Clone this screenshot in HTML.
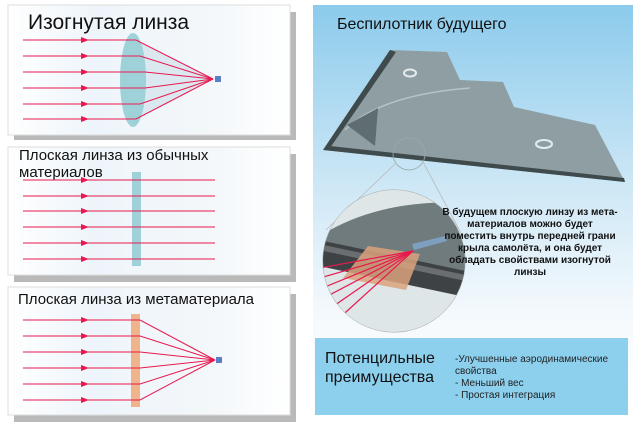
<!DOCTYPE html>
<html><head><meta charset="utf-8"><style>
body{margin:0;width:640px;height:431px;background:#fff;overflow:hidden;font-family:"Liberation Sans",sans-serif}
svg{position:absolute;left:0;top:0}
</style></head><body>
<svg width="640" height="431" viewBox="0 0 640 431" xmlns="http://www.w3.org/2000/svg">
<defs>
<linearGradient id="sky" x1="0" y1="0" x2="0" y2="1">
<stop offset="0" stop-color="#8ccbec"/><stop offset="0.45" stop-color="#cfe8f6"/><stop offset="0.75" stop-color="#f4f9fd"/><stop offset="1" stop-color="#ffffff"/></linearGradient>
<linearGradient id="pan" x1="0" y1="0" x2="1" y2="0">
<stop offset="0" stop-color="#fff"/><stop offset="0.3" stop-color="#eef5fa"/><stop offset="0.7" stop-color="#f3f7fa"/><stop offset="1" stop-color="#fff"/></linearGradient>
<marker id="ar" markerWidth="8" markerHeight="6" refX="4" refY="3" orient="auto"><path d="M0,0 L8,3 L0,6z" fill="#e8194f"/></marker>
<clipPath id="cc"><circle cx="394" cy="261" r="71"/></clipPath>
</defs>
<rect x="313" y="5" width="320" height="410" fill="url(#sky)"/>
<text x="337" y="29" font-size="16" fill="#111">Беспилотник будущего</text>
<polygon points="390,50 447,52 460,80 503,82 514,107 595,125 625,182 323,150" fill="#8e9ea2"/>
<polygon points="390,50 396,52 330,148 323,150" fill="#3f4a4c"/>
<polygon points="323,150 625,182 624,178 330,146" fill="#3f4a4c"/>
<path d="M345,130 Q380,95 470,88" stroke="#b7c3c6" stroke-width="1.5" fill="none"/>
<polygon points="347,125 378,108 375,146" fill="#5f6d70"/>
<ellipse cx="410" cy="73" rx="6" ry="3.5" fill="none" stroke="#e5ecee" stroke-width="2"/>
<ellipse cx="544" cy="144" rx="8" ry="4" fill="none" stroke="#e5ecee" stroke-width="2"/>
<circle cx="409" cy="154" r="16" fill="none" stroke="#9aa" stroke-width="0.8"/>
<line x1="396" y1="163" x2="326" y2="230" stroke="#bbb" stroke-width="0.8"/>
<line x1="423" y1="162" x2="462" y2="235" stroke="#bbb" stroke-width="0.8"/>
<circle cx="394" cy="261" r="71" fill="#dfe7ea" stroke="#aaa"/>
<g clip-path="url(#cc)">
<rect x="310" y="185" width="170" height="160" fill="#dfe6e8"/>
<path d="M320,236 Q380,198 470,203 L470,278 L320,246z" fill="#6f7b7d"/>
<polygon points="300,236 480,274 480,300 300,262" fill="#3f4244"/>
<polygon points="300,240 480,278 480,284 300,246" fill="#6a6e70"/>
<polygon points="368,246 420,254 406,290 343,278" fill="#d9a27c" opacity="0.85"/>
<polygon points="412,244 445,236 447,241 414,250" fill="#7f9fc0"/>
<g stroke="#e8194f" stroke-width="1.2">
<line x1="413" y1="251" x2="320" y2="268"/><line x1="413" y1="251" x2="320" y2="278"/><line x1="413" y1="251" x2="320" y2="289"/><line x1="413" y1="251" x2="320" y2="300"/><line x1="413" y1="251" x2="325" y2="312"/><line x1="413" y1="251" x2="335" y2="322"/></g>
</g>
<g font-size="10" font-weight="bold" text-anchor="middle" fill="#111">
<text x="530" y="215">В будущем плоскую линзу из мета-</text>
<text x="530" y="227">материалов можно будет</text>
<text x="530" y="239">поместить внутрь передней грани</text>
<text x="530" y="251">крыла самолёта, и она будет</text>
<text x="530" y="263">обладать свойствами изогнутой</text>
<text x="530" y="275">линзы</text></g>
<rect x="315" y="338" width="313" height="77" fill="#8dd0ee"/>
<text x="325" y="363" font-size="16" fill="#111">Потенцильные</text>
<text x="325" y="382" font-size="16" fill="#111">преимущества</text>
<g font-size="10" fill="#222"><text x="455" y="362">-Улучшенные аэродинамические</text><text x="455" y="374">свойства</text><text x="455" y="386">- Меньший вес</text><text x="455" y="398">- Простая интеграция</text></g>

<rect x="14" y="12" width="282" height="128" fill="#b9b9b9"/>
<rect x="8" y="5" width="282" height="130" fill="url(#pan)" stroke="#ddd"/>
<text x="28" y="29" font-size="21" fill="#111">Изогнутая линза</text>
<polygon points="136,40 213,79 136,119" fill="#dbe8f0"/>
<ellipse cx="133" cy="80" rx="13" ry="47" fill="#9fd2d8"/>
<g stroke="#e8194f" stroke-width="1" fill="none">
<path d="M23,40 H85" marker-end="url(#ar)"/><path d="M83,40 H136 L213,79"/>
<path d="M23,56 H85" marker-end="url(#ar)"/><path d="M83,56 H140 L213,79"/>
<path d="M23,72 H85" marker-end="url(#ar)"/><path d="M83,72 H145 L213,79"/>
<path d="M23,88 H85" marker-end="url(#ar)"/><path d="M83,88 H145 L213,79"/>
<path d="M23,104 H85" marker-end="url(#ar)"/><path d="M83,104 H140 L213,79"/>
<path d="M23,119 H85" marker-end="url(#ar)"/><path d="M83,119 H136 L213,79"/></g>
<rect x="215" y="76" width="6" height="6" fill="#5b7fc7"/>

<rect x="14" y="154" width="282" height="128" fill="#b9b9b9"/>
<rect x="8" y="147" width="282" height="128" fill="url(#pan)" stroke="#ddd"/>
<text x="19" y="160" font-size="15" fill="#111">Плоская линза из обычных</text>
<text x="19" y="177" font-size="15" fill="#111">материалов</text>
<rect x="132" y="172" width="9" height="94" fill="#9fd2d8"/>
<g stroke="#e8194f" stroke-width="1" fill="none">
<path d="M23,180 H85" marker-end="url(#ar)"/><path d="M83,180 H215"/>
<path d="M23,196 H85" marker-end="url(#ar)"/><path d="M83,196 H215"/>
<path d="M23,211 H85" marker-end="url(#ar)"/><path d="M83,211 H215"/>
<path d="M23,227 H85" marker-end="url(#ar)"/><path d="M83,227 H215"/>
<path d="M23,243 H85" marker-end="url(#ar)"/><path d="M83,243 H215"/>
<path d="M23,259 H85" marker-end="url(#ar)"/><path d="M83,259 H215"/></g>

<rect x="14" y="294" width="282" height="128" fill="#b9b9b9"/>
<rect x="8" y="287" width="282" height="128" fill="url(#pan)" stroke="#ddd"/>
<text x="18" y="304" font-size="15" fill="#111">Плоская линза из метаматериала</text>
<rect x="131" y="314" width="9" height="93" fill="#f0b48c"/>
<g stroke="#e8194f" stroke-width="1" fill="none">
<path d="M23,320 H85" marker-end="url(#ar)"/><path d="M83,320 H140 L215,360"/>
<path d="M23,336 H85" marker-end="url(#ar)"/><path d="M83,336 H140 L215,360"/>
<path d="M23,352 H85" marker-end="url(#ar)"/><path d="M83,352 H140 L215,360"/>
<path d="M23,368 H85" marker-end="url(#ar)"/><path d="M83,368 H140 L215,360"/>
<path d="M23,384 H85" marker-end="url(#ar)"/><path d="M83,384 H140 L215,360"/>
<path d="M23,400 H85" marker-end="url(#ar)"/><path d="M83,400 H140 L215,360"/></g>
<rect x="216" y="357" width="6" height="6" fill="#5b7fc7"/>
</svg>
</body></html>
